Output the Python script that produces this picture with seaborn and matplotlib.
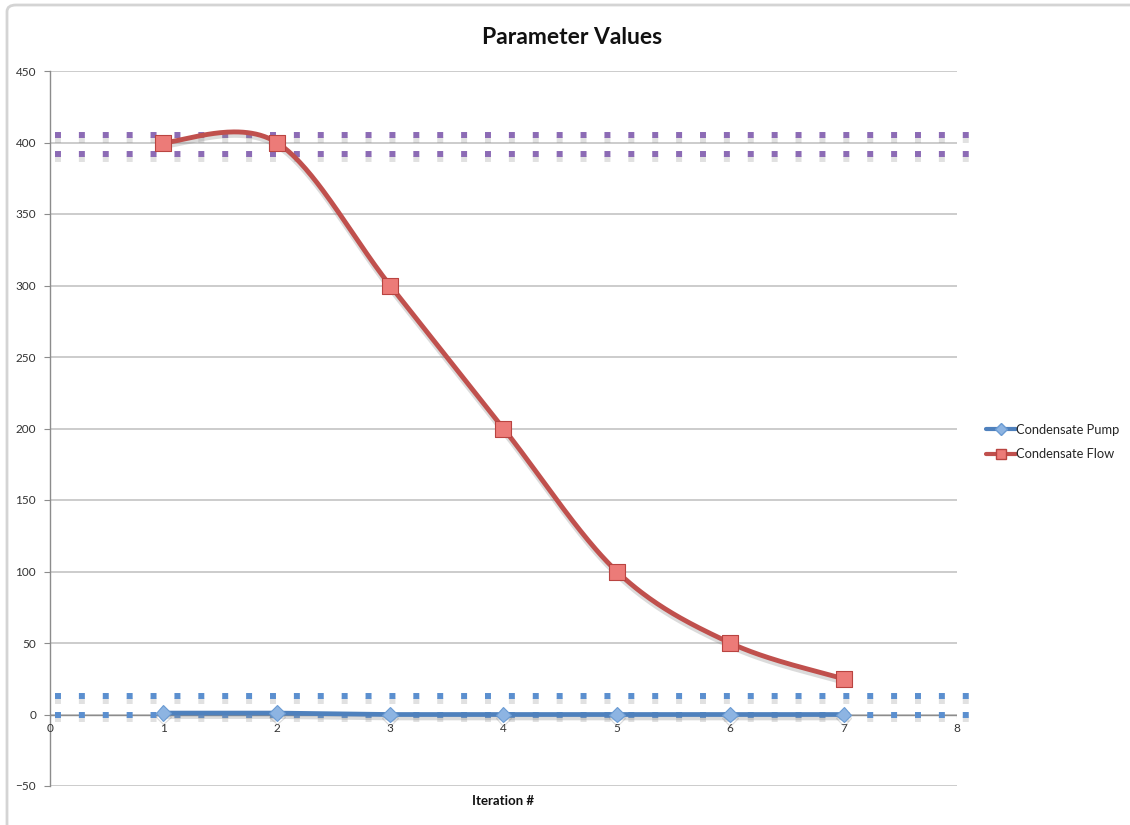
import numpy as np
import matplotlib
matplotlib.use("Agg")
import matplotlib.pyplot as plt
import matplotlib.patheffects as pe
from matplotlib.lines import Line2D
from matplotlib.patches import FancyBboxPatch
import seaborn as sns
import pandas as pd

# Series data
iterations = [1, 2, 3, 4, 5, 6, 7]
pump_values = [1, 1, 0, 0, 0, 0, 0]
flow_values = [400, 400, 300, 200, 100, 50, 25]

# Reference bands drawn as dotted lines
flow_band = [405, 392]
pump_band = [13, 0]

x_ticks = [0, 1, 2, 3, 4, 5, 6, 7, 8]
y_ticks = [-50, 0, 50, 100, 150, 200, 250, 300, 350, 400, 450]

BLUE = "#4F81BD"
RED = "#C0504D"
PURPLE = "#8C6BB5"
DOT_BLUE = "#5B8FCF"

sns.set_theme(style="white")
plt.rcParams["font.family"] = ["Lato", "DejaVu Sans"]

fig = plt.figure(figsize=(11.30, 8.25), dpi=100)
ax = fig.add_axes([50 / 1130, 1 - 786 / 825, 907 / 1130, 715 / 825])

# outer chart frame
frame = FancyBboxPatch((7 / 1130, -0.05), 1.2, 1 - 5 / 825 + 0.05,
                       boxstyle="round,pad=0,rounding_size=0.008",
                       transform=fig.transFigure, fill=False,
                       edgecolor="#d4d4d4", linewidth=2, clip_on=False)
fig.patches.append(frame)

ax.set_xlim(0, 8)
ax.set_ylim(-50, 450)
ax.set_yticks(y_ticks)
ax.set_xticks([])
for y in y_ticks:
    ax.axhline(y, color="#c8c8c8", lw=1.3, zorder=1)

line_shadow = [pe.SimpleLineShadow(offset=(0, -2.5), shadow_color="#8a8a8a", alpha=0.3),
               pe.Normal()]

# dotted bands extending past the plot area
for vals, col, end in ((flow_band, PURPLE, 8.16), (pump_band, DOT_BLUE, 8.22)):
    for v in vals:
        ax.plot([0.045, end], [v, v], color=col, lw=4.3, ls=(0, (1, 3)),
                solid_capstyle="butt", dash_capstyle="butt", clip_on=False,
                zorder=3, path_effects=[pe.SimpleLineShadow(offset=(0, -3.5), shadow_color="#888888", alpha=0.25),
                                        pe.Normal()])


def smooth_curve(xs, ys, n=60):
    """Catmull-Rom style smoothing through the given points."""
    xs = np.asarray(xs, float)
    ys = np.asarray(ys, float)
    px = np.concatenate([[xs[0]], xs, [xs[-1]]])
    py = np.concatenate([[ys[0]], ys, [ys[-1]]])
    out_x, out_y = [], []
    for i in range(1, len(px) - 2):
        t = np.linspace(0, 1, n)
        h00 = 2 * t**3 - 3 * t**2 + 1
        h10 = t**3 - 2 * t**2 + t
        h01 = -2 * t**3 + 3 * t**2
        h11 = t**3 - t**2
        mx0 = (px[i + 1] - px[i - 1]) / 2
        mx1 = (px[i + 2] - px[i]) / 2
        my0 = (py[i + 1] - py[i - 1]) / 2
        my1 = (py[i + 2] - py[i]) / 2
        out_x.append(h00 * px[i] + h10 * mx0 + h01 * px[i + 1] + h11 * mx1)
        out_y.append(h00 * py[i] + h10 * my0 + h01 * py[i + 1] + h11 * my1)
    return np.concatenate(out_x), np.concatenate(out_y)


df = pd.DataFrame({"Iteration": iterations, "Pump": pump_values, "Flow": flow_values})

# Condensate Pump: straight line with diamond markers
sns.lineplot(data=df, x="Iteration", y="Pump", ax=ax, color=BLUE, lw=3.4,
             marker="D", markersize=8, markerfacecolor="#8DB4E2",
             markeredgecolor="#6A9BD3", markeredgewidth=0.8, zorder=5,
             path_effects=line_shadow)

# Condensate Flow: smoothed line with square markers
sx, sy = smooth_curve(df["Iteration"], df["Flow"])
ax.plot(sx, sy, color=RED, lw=3.5, zorder=5, solid_capstyle="round", path_effects=line_shadow)
sns.scatterplot(data=df, x="Iteration", y="Flow", ax=ax, marker="s", s=130,
                color="#EC7B78", edgecolor="#B94441", linewidth=0.8, zorder=6)

# x axis crosses at zero
ax.axhline(0, color="#8c8c8c", lw=1.0, zorder=2)
for xt in x_ticks:
    ax.text(xt, -6, str(xt), ha="center", va="top", fontsize=8.5, color="#333333")
    ax.plot([xt, xt], [0, -2.5], color="#8c8c8c", lw=0.8, zorder=2)

for side in ("top", "right", "bottom"):
    ax.spines[side].set_visible(False)
ax.spines["left"].set_color("#8c8c8c")
ax.spines["left"].set_linewidth(1.0)
ax.tick_params(axis="y", length=4, width=0.8, color="#8c8c8c", labelsize=8.5,
               labelcolor="#333333", pad=6, left=True)
ax.set_xlabel("")
ax.set_ylabel("")

fig.text(572 / 1130, 1 - 38 / 825, "Parameter Values", ha="center", va="center",
         fontsize=16.5, fontweight="bold", color="#111111")
fig.text(503 / 1130, 1 - 801 / 825, "Iteration #", ha="center", va="center",
         fontsize=9.5, fontweight="bold", color="#111111")

handles = [
    Line2D([], [], color=BLUE, lw=3, marker="D", markersize=6,
           markerfacecolor="#8DB4E2", markeredgecolor="#6A9BD3"),
    Line2D([], [], color=RED, lw=3, marker="s", markersize=7,
           markerfacecolor="#EC7B78", markeredgecolor="#B94441"),
]
fig.legend(handles, ["Condensate Pump", "Condensate Flow"], loc="center left",
           bbox_to_anchor=(980 / 1130, 1 - 442 / 825), frameon=False,
           fontsize=9.3, handlelength=2.3, handletextpad=0.0, labelspacing=1.0,
           borderpad=0)

fig.savefig("out.png", dpi=100)
